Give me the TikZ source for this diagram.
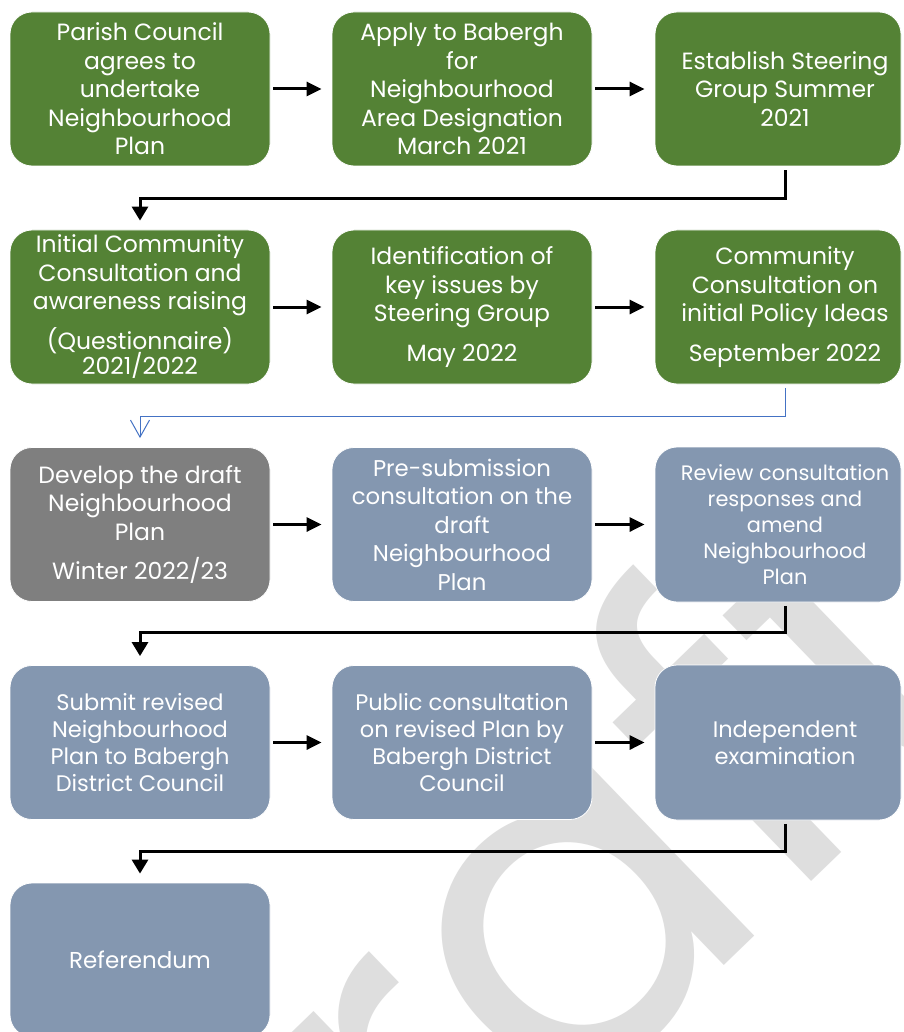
\documentclass[tikz,border=0pt]{standalone}
\usepackage{fontspec}
\setmainfont{Poppins}
\usetikzlibrary{arrows.meta}
\definecolor{grn}{HTML}{548235}
\definecolor{dgray}{HTML}{7F7F7F}
\definecolor{bgray}{HTML}{8497B0}
\definecolor{wmark}{HTML}{DEDEDE}
\definecolor{lnblue}{HTML}{4472C4}
\tikzset{
  box/.style={rounded corners=22pt, draw=white, line width=0.8pt, text=white,
    align=center, minimum width=260pt, minimum height=154pt, inner sep=0pt,
    font=\fontsize{23.5}{28.5}\selectfont},
  gbox/.style={box, fill=grn},
  ggbox/.style={box, fill=dgray},
  bbox/.style={box, fill=bgray},
  tbox/.style={box, draw=none, fill=none},
  shade3/.style={rounded corners=22pt, draw=white, line width=0.8pt},
  harrow/.style={line width=3pt, -{Triangle[length=15pt,width=14pt]}, shorten <=3pt, shorten >=10pt},
  elbow/.style={line width=3pt, -{Triangle[length=14pt,width=16pt]}, shorten <=4pt, shorten >=9pt},
  thinelbow/.style={line width=1pt, draw=lnblue, -{Straight Barb[length=17pt,width=19pt,line width=1pt]}, shorten <=4pt, shorten >=9pt},
  wm/.style={text=wmark, rotate=44, font=\fontsize{460}{460}\selectfont, inner sep=0pt}
}
\begin{document}
\begin{tikzpicture}[x=1pt,y=-1pt]
\clip (0,0) rectangle (903,1032);
\fill[white] (0,0) rectangle (903,1032);
\node[wm] (wmk) at (484,956) {Draft};
% visible shapes of the third column (cut at the right margin)
\path[shade3, fill=grn] (655,12) rectangle (901,166);
\path[shade3, fill=grn] (655,230) rectangle (901,384);
\path[shade3, fill=bgray] (655,447) rectangle (901,602);
\path[shade3, fill=bgray] (655,665) rectangle (901,820);
% row 1
\node[gbox] (a1) at (140,89) {Parish Council\\agrees to\\undertake\\Neighbourhood\\Plan};
\node[gbox] (a2) at (462,89) {Apply to Babergh\\for\\Neighbourhood\\Area Designation\\March 2021};
\node[tbox] (a3) at (785,89) {Establish Steering\\Group Summer\\2021};
% row 2
\node[gbox] (b1) at (140,307) {Initial Community\\Consultation and\\awareness raising\\[11pt](Questionnaire)\\[-3pt]2021/2022};
\node[gbox] (b2) at (462,307) {Identification of\\key issues by\\Steering Group\\[11pt]May 2022};
\node[tbox] (b3) at (785,307) {Community\\Consultation on\\initial Policy Ideas\\[11pt]September 2022};
% row 3
\node[ggbox] (c1) at (140,524.5) {Develop the draft\\Neighbourhood\\Plan\\[11pt]Winter 2022/23};
\node[bbox, font=\fontsize{22.8}{28.5}\selectfont] (c2) at (462,524.5) {Pre-submission\\consultation on the\\draft\\Neighbourhood\\Plan};
\node[tbox, font=\fontsize{20.9}{26}\selectfont] (c3) at (785,524.5) {Review consultation\\responses and\\amend\\Neighbourhood\\Plan};
% row 4
\node[bbox, font=\fontsize{22.5}{27}\selectfont] (d1) at (140,742.5) {Submit revised\\Neighbourhood\\Plan to Babergh\\District Council};
\node[bbox, font=\fontsize{22.5}{27}\selectfont] (d2) at (462,742.5) {Public consultation\\on revised Plan by\\Babergh District\\Council};
\node[tbox, font=\fontsize{22.5}{27}\selectfont] (d3) at (785,742.5) {Independent\\examination};
% row 5
\node[bbox, font=\fontsize{23}{27}\selectfont] (e1) at (140,960) {Referendum};
% connectors
\draw[harrow] (a1.east) -- (a2.west);
\draw[harrow] (a2.east) -- (a3.west);
\draw[harrow] (b1.east) -- (b2.west);
\draw[harrow] (b2.east) -- (b3.west);
\draw[harrow] (c1.east) -- (c2.west);
\draw[harrow] (c2.east) -- (c3.west);
\draw[harrow] (d1.east) -- (d2.west);
\draw[harrow] (d2.east) -- (d3.west);
\draw[elbow] (a3.south) -- ++(0,32) -| (b1.north);
\draw[thinelbow] (b3.south) -- ++(0,32) -| (c1.north);
\draw[elbow] (c3.south) -- ++(0,31) -| (d1.north);
\draw[elbow] (d3.south) -- ++(0,32) -| (e1.north);
\end{tikzpicture}
\end{document}
